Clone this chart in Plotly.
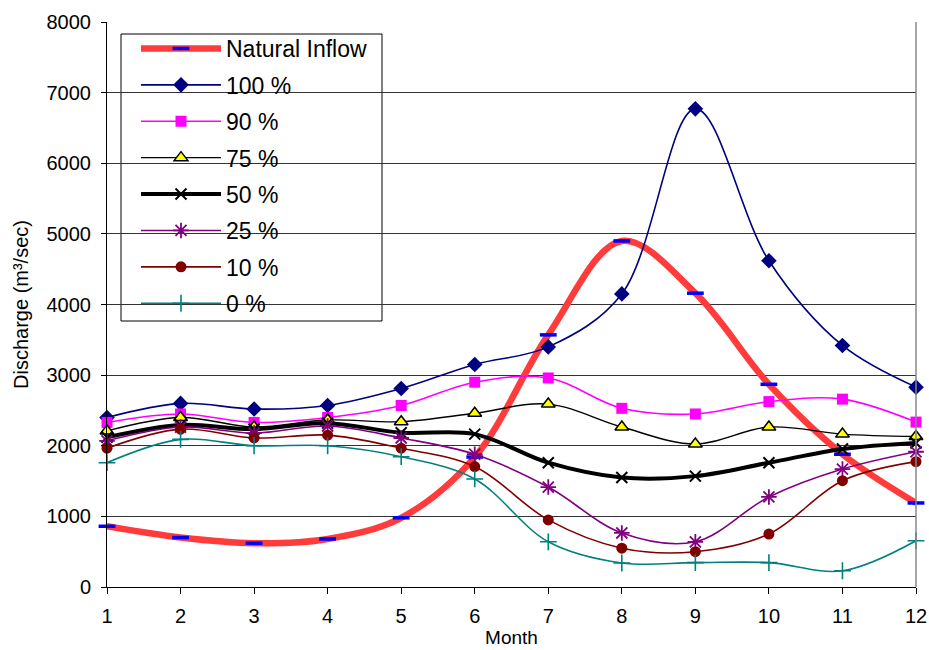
import plotly.graph_objects as go

months = list(range(1, 13))

natural_inflow = [860, 700, 620, 680, 980, 1840, 3570, 4900, 4160, 2870, 1880, 1190]
p100 = [2400, 2600, 2520, 2570, 2810, 3150, 3400, 4150, 6770, 4620, 3420, 2830]
p90 = [2330, 2450, 2330, 2400, 2570, 2900, 2960, 2530, 2450, 2625, 2660, 2335]
p75 = [2210, 2400, 2265, 2365, 2340, 2460, 2590, 2265, 2025, 2265, 2165, 2130]
p50 = [2120, 2295, 2235, 2320, 2185, 2165, 1760, 1550, 1570, 1760, 1955, 2040]
p25 = [2070, 2265, 2180, 2280, 2110, 1880, 1415, 765, 640, 1275, 1670, 1915]
p10 = [1965, 2235, 2110, 2150, 1965, 1705, 950, 550, 500, 750, 1505, 1775]
p0 = [1760, 2090, 2000, 2000, 1845, 1530, 640, 340, 345, 345, 230, 655]

series = [
    ("Natural Inflow", natural_inflow, dict(color="#FF3B3B", width=6.5),
     dict(symbol="line-ew", size=12, line=dict(color="#0000FF", width=3.5))),
    ("100 %", p100, dict(color="#000080", width=1.6),
     dict(symbol="diamond", size=12, color="#000080")),
    ("90 %", p90, dict(color="#FF00FF", width=1.6),
     dict(symbol="square", size=11, color="#FF00FF")),
    ("75 %", p75, dict(color="#000000", width=1.4),
     dict(symbol="triangle-up", size=12, color="#FFFF00", line=dict(color="#000000", width=1.5))),
    ("50 %", p50, dict(color="#000000", width=4),
     dict(symbol="x-thin", size=11, line=dict(color="#000000", width=2))),
    ("25 %", p25, dict(color="#800080", width=1.6),
     dict(symbol="asterisk", size=13, line=dict(color="#800080", width=1.8))),
    ("10 %", p10, dict(color="#800000", width=1.6),
     dict(symbol="circle", size=11, color="#800000")),
    ("0 %", p0, dict(color="#008080", width=1.6),
     dict(symbol="cross-thin", size=12, line=dict(color="#008080", width=1.6))),
]

fig = go.Figure()
for i, (name, vals, ln, mk) in enumerate(series):
    fig.add_trace(go.Scatter(
        x=months, y=vals, name=name, mode="lines+markers",
        line=dict(shape="spline", smoothing=1.0, **ln),
        marker=mk, legendgroup=f"g{i}", legendrank=i, cliponaxis=False,
    ))

font_family = "Liberation Sans, Arial, sans-serif"

L, R, T, B = 107, 13, 22, 63
W, H = 929, 650
pw, ph = W - L - R, H - T - B

def px_x(p):
    return (p - L) / pw

def px_y(p):
    return (H - B - p) / ph

fig.update_layout(
    width=W, height=H,
    margin=dict(l=L, r=R, t=T, b=B),
    paper_bgcolor="white", plot_bgcolor="white",
    font=dict(family=font_family, size=20, color="black"),
    showlegend=True,
    legend=dict(
        x=px_x(136), y=px_y(27), xanchor="left", yanchor="top",
        borderwidth=0, bgcolor="rgba(0,0,0,0)",
        font=dict(size=23, family=font_family),
        tracegroupgap=3.5, itemwidth=80,
    ),
    xaxis=dict(
        range=[1, 12], tickmode="array", tickvals=months,
        ticktext=[str(m) for m in months],
        showgrid=False, zeroline=False, automargin=False,
        showline=True, linecolor="black", linewidth=1,
        ticks="outside", ticklen=6, tickcolor="black",
        ticklabelstandoff=5, tickfont=dict(size=20),
        title=dict(text="Month", font=dict(size=19), standoff=4),
    ),
    yaxis=dict(
        range=[0, 8000], tickmode="array",
        tickvals=[0, 1000, 2000, 3000, 4000, 5000, 6000, 7000, 8000],
        showgrid=True, gridcolor="#333333", gridwidth=1, zeroline=False,
        automargin=False,
        showline=True, linecolor="black", linewidth=1,
        ticks="outside", ticklen=5, tickcolor="black",
        ticklabelstandoff=6, tickfont=dict(size=20),
        title=dict(text="Discharge (m³/sec)", font=dict(size=20), standoff=12),
    ),
    shapes=[
        dict(type="line", xref="paper", yref="paper", x0=1, x1=1, y0=0, y1=1,
             line=dict(color="#888888", width=1.5)),
        dict(type="rect", xref="paper", yref="paper", layer="below",
             x0=px_x(121), x1=px_x(382), y0=px_y(321), y1=px_y(34),
             fillcolor="white", line=dict(color="black", width=1)),
    ],
)

fig.write_html(
    "out.html",
    config={"displayModeBar": False},
    post_script="document.body.style.margin='0';document.body.style.padding='0';",
)
